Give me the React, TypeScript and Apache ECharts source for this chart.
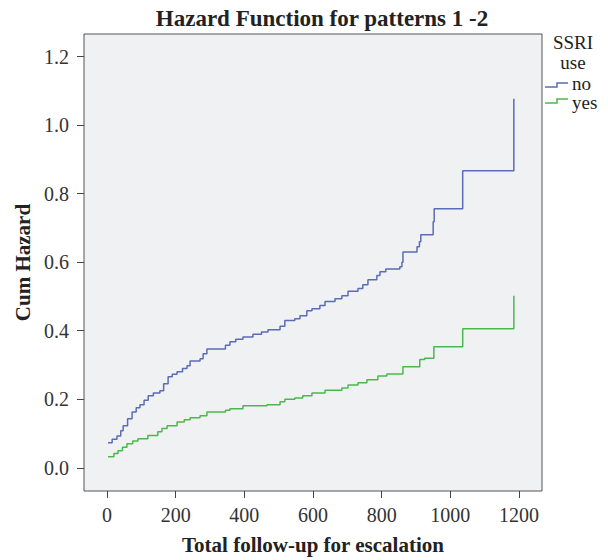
import React, { useEffect, useRef } from "react";
import * as echarts from "echarts";

const title = "Hazard Function for patterns 1 -2";
const xAxisName = "Total follow-up for escalation";
const yAxisName = "Cum Hazard";
const legendTitle = ["SSRI", "use"];
const seriesNames = ["no", "yes"];
const xTicks = [0, 200, 400, 600, 800, 1000, 1200];
const yTicks = [0, 0.2, 0.4, 0.6, 0.8, 1.0, 1.2];

// SSRI use = no : [time, cumulative hazard after step]
const noSeries: [number, number][] = [
  [3, 0.073], [15, 0.083], [29, 0.093], [40, 0.108], [47, 0.123], [60, 0.143],
  [73, 0.163], [85, 0.175], [96, 0.184], [108, 0.197], [120, 0.21], [135, 0.218],
  [154, 0.225], [165, 0.245], [178, 0.266], [190, 0.273], [204, 0.28], [220, 0.29],
  [233, 0.298], [242, 0.312], [271, 0.318], [280, 0.333], [291, 0.347], [345, 0.358],
  [358, 0.368], [375, 0.375], [396, 0.382], [425, 0.39], [450, 0.396], [469, 0.403],
  [504, 0.413], [518, 0.43], [547, 0.435], [562, 0.444], [582, 0.458], [597, 0.464],
  [620, 0.474], [635, 0.485], [664, 0.493], [684, 0.502], [702, 0.515], [731, 0.523],
  [745, 0.534], [760, 0.549], [786, 0.561], [795, 0.572], [812, 0.58], [853, 0.587],
  [859, 0.6], [862, 0.63], [903, 0.645], [910, 0.66], [914, 0.68], [950, 0.718],
  [953, 0.756], [1036, 0.867], [1185, 1.077],
];

// SSRI use = yes
const yesSeries: [number, number][] = [
  [3, 0.032], [20, 0.042], [32, 0.05], [45, 0.06], [58, 0.07], [75, 0.078],
  [90, 0.085], [119, 0.094], [148, 0.105], [160, 0.115], [175, 0.123], [204, 0.134],
  [225, 0.14], [242, 0.146], [271, 0.152], [291, 0.163], [345, 0.168], [358, 0.172],
  [396, 0.181], [466, 0.184], [504, 0.193], [518, 0.2], [547, 0.204], [570, 0.21],
  [597, 0.218], [635, 0.226], [684, 0.233], [702, 0.242], [731, 0.248], [757, 0.257],
  [789, 0.268], [815, 0.274], [862, 0.295], [911, 0.316], [925, 0.32], [952, 0.353],
  [1036, 0.406], [1185, 0.502],
];

const colors = ["#5b6cb6", "#4cb84c"];
const FONT = "'Liberation Serif', 'DejaVu Serif', serif";

export default function App() {
  const ref = useRef<HTMLDivElement>(null);
  useEffect(() => {
    if (!ref.current) return;
    document.body.style.margin = "0";
    const chart = echarts.init(ref.current, undefined, { renderer: "svg" });
    const lx = 545;
    chart.setOption({
      animation: false,
      backgroundColor: "#ffffff",
      textStyle: { fontFamily: FONT },
      title: {
        text: title,
        left: 317,
        top: 2,
        textAlign: "center",
        textStyle: { fontFamily: FONT, fontSize: 23, fontWeight: "bold", color: "#222" },
      },
      grid: {
        left: 84,
        right: 66,
        top: 34,
        bottom: 67,
        show: true,
        backgroundColor: "#f0f1f3",
        borderColor: "#555",
        borderWidth: 1,
      },
      xAxis: {
        type: "value",
        min: -67,
        max: 1267,
        name: xAxisName,
        nameLocation: "middle",
        nameGap: 43,
        nameTextStyle: { fontFamily: FONT, fontSize: 21, fontWeight: "bold", color: "#222" },
        axisLine: { show: false, onZero: false },
        axisTick: { show: true, customValues: xTicks, length: 7, lineStyle: { color: "#444" } },
        axisLabel: {
          customValues: xTicks,
          margin: 14,
          fontFamily: FONT,
          fontSize: 20,
          color: "#333",
          formatter: (v: number) => String(v),
        },
        splitLine: { show: false },
      },
      yAxis: {
        type: "value",
        min: -0.0677,
        max: 1.266,
        name: yAxisName,
        nameLocation: "middle",
        nameGap: 49,
        nameTextStyle: { fontFamily: FONT, fontSize: 21, fontWeight: "bold", color: "#222" },
        axisLine: { show: false, onZero: false },
        axisTick: { show: true, customValues: yTicks, length: 7, lineStyle: { color: "#444" } },
        axisLabel: {
          customValues: yTicks,
          margin: 15,
          fontFamily: FONT,
          fontSize: 20,
          color: "#333",
          formatter: (v: number) => v.toFixed(1),
        },
        splitLine: { show: false },
      },
      series: [
        {
          name: seriesNames[0],
          type: "line",
          step: "end",
          data: noSeries,
          showSymbol: false,
          symbol: "none",
          lineStyle: { color: colors[0], width: 1.5 },
          itemStyle: { color: colors[0] },
        },
        {
          name: seriesNames[1],
          type: "line",
          step: "end",
          data: yesSeries,
          showSymbol: false,
          symbol: "none",
          lineStyle: { color: colors[1], width: 1.5 },
          itemStyle: { color: colors[1] },
        },
      ],
      graphic: [
        {
          type: "text",
          x: 573,
          y: 42,
          style: { text: legendTitle[0], font: `19px ${FONT}`, fill: "#222", textAlign: "center", textVerticalAlign: "middle" },
        },
        {
          type: "text",
          x: 573,
          y: 62,
          style: { text: legendTitle[1], font: `19px ${FONT}`, fill: "#222", textAlign: "center", textVerticalAlign: "middle" },
        },
        {
          type: "polyline",
          shape: { points: [[lx, 87], [lx + 12, 87], [lx + 12, 83], [lx + 23, 83]] },
          style: { stroke: colors[0], fill: null, lineWidth: 1.5 },
        },
        {
          type: "text",
          x: 572,
          y: 83,
          style: { text: seriesNames[0], font: `19px ${FONT}`, fill: "#222", textAlign: "left", textVerticalAlign: "middle" },
        },
        {
          type: "polyline",
          shape: { points: [[lx, 103], [lx + 12, 103], [lx + 12, 99], [lx + 23, 99]] },
          style: { stroke: colors[1], fill: null, lineWidth: 1.5 },
        },
        {
          type: "text",
          x: 572,
          y: 102,
          style: { text: seriesNames[1], font: `19px ${FONT}`, fill: "#222", textAlign: "left", textVerticalAlign: "middle" },
        },
      ],
    });
    return () => chart.dispose();
  }, []);
  return <div ref={ref} style={{ width: 608, height: 560 }} />;
}
